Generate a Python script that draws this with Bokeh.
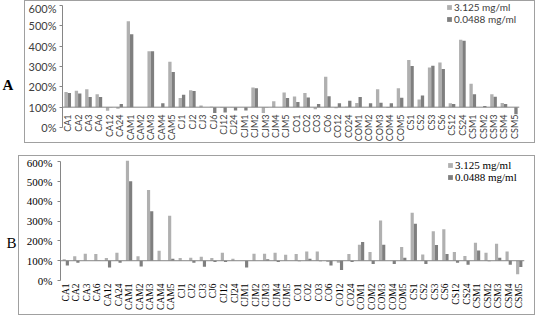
import math
from bokeh.plotting import figure
from bokeh.models import (Range1d, FactorRange, FixedTicker, PrintfTickFormatter, Span,
                          Label, Legend, LegendItem, ColumnDataSource)
from bokeh.transform import dodge
from bokeh.layouts import column, row
from bokeh.embed import file_html
from bokeh.resources import INLINE

# ---------------- data ----------------
cats = ["CA1", "CA2", "CA3", "CA6", "CA12", "CA24",
        "CAM1", "CAM2", "CAM3", "CAM4", "CAM5",
        "CJ1", "CJ2", "CJ3", "CJ6", "CJ12", "CJ24",
        "CJM1", "CJM2", "CJM3", "CJM4", "CJM5",
        "CO1", "CO2", "CO3", "CO6", "CO12", "CO24",
        "COM1", "COM2", "COM3", "COM4", "COM5",
        "CS1", "CS2", "CS3", "CS6", "CS12", "CS24",
        "CSM1", "CSM2", "CSM3", "CSM4", "CSM5"]

# panel A label text as printed
labels_a_override = {"CA12": "C12"}

a_high = [175, 181, 188, 164, 82, 92,
          523, 100, 375, 100, 324,
          145, 183, 108, 102, 97, 98,
          100, 197, 71, 129, 172,
          153, 170, 90, 250, 95, 102,
          121, 100, 188, 96, 193,
          332, 138, 295, 320, 119, 432,
          215, 100, 164, 121, 100]
a_low = [170, 167, 150, 150, 98, 116,
         459, 100, 375, 119, 273,
         161, 180, 100, 71, 74, 84,
         84, 193, 98, 100, 145,
         126, 148, 116, 154, 119, 132,
         150, 119, 122, 119, 146,
         303, 158, 304, 288, 116, 427,
         164, 106, 151, 116, 65]

b_high = [107, 122, 135, 134, 114, 140,
          605, 122, 458, 151, 328,
          114, 115, 120, 114, 140, 110,
          100, 135, 135, 140, 130,
          134, 147, 147, 93, 90, 134,
          181, 144, 303, 100, 169,
          343, 132, 249, 259, 144, 124,
          191, 140, 186, 147, 31]
b_low = [76, 90, 100, 98, 66, 90,
         502, 71, 350, 100, 110,
         100, 90, 70, 93, 93, 100,
         66, 100, 108, 93, 100,
         97, 110, 97, 76, 53, 93,
         195, 83, 181, 83, 115,
         287, 83, 179, 134, 90, 80,
         152, 97, 115, 80, 68]

series_names = ["3.125 mg/ml", "0.0488 mg/ml"]
y_ticks = [0, 100, 200, 300, 400, 500, 600]
baseline = 100

LIGHT = "#b0b0b0"
DARK = "#7f7f7f"
AXIS = "#868686"
BOX = "#a0a0a0"


def make_panel(high, low, width, height, ytop, mb_left, mb_right, mb_bottom, font,
               tick_size, leg_size, label_size, label_color, bar_w, label_standoff,
               ystandoff, legend_loc, overrides=None):
    src = ColumnDataSource(dict(cat=cats, high=high, low=low,
                                base=[baseline] * len(cats)))
    p = figure(width=width, height=height, output_backend="svg", toolbar_location=None,
               title=None, x_range=FactorRange(*cats), y_range=Range1d(0, ytop),
               min_border_left=mb_left, min_border_right=mb_right,
               min_border_top=0, min_border_bottom=mb_bottom,
               styles={"border": "1px solid " + BOX})
    p.outline_line_color = None
    p.xgrid.visible = False
    p.ygrid.visible = False

    r1 = p.vbar(x=dodge("cat", -bar_w / 2, range=p.x_range), top="high", bottom="base",
                width=bar_w, source=src, fill_color=LIGHT, line_color=None)
    r2 = p.vbar(x=dodge("cat", bar_w / 2, range=p.x_range), top="low", bottom="base",
                width=bar_w, source=src, fill_color=DARK, line_color=None)

    yax = p.yaxis[0]
    yax.ticker = FixedTicker(ticks=y_ticks)
    yax.bounds = (0, 600)
    yax.formatter = PrintfTickFormatter(format="%d%%")
    yax.axis_line_color = AXIS
    yax.major_tick_line_color = AXIS
    yax.major_tick_out = 3
    yax.major_tick_in = 0
    yax.minor_tick_line_color = None
    yax.major_label_standoff = ystandoff
    yax.major_label_text_font = font
    yax.major_label_text_font_size = tick_size
    yax.major_label_text_color = label_color

    xax = p.xaxis[0]
    xax.major_label_orientation = math.pi / 2
    xax.major_label_text_font = font
    xax.major_label_text_font_size = label_size
    xax.major_label_text_color = label_color
    xax.major_tick_line_color = None
    xax.major_tick_out = 0
    xax.major_tick_in = 0
    xax.minor_tick_line_color = None
    xax.axis_line_color = None
    xax.major_label_standoff = label_standoff
    if overrides:
        xax.major_label_overrides = overrides

    p.add_layout(Span(location=baseline, dimension="width", line_color=AXIS, line_width=1))

    legend = Legend(items=[LegendItem(label=series_names[0], renderers=[r1]),
                           LegendItem(label=series_names[1], renderers=[r2])],
                    location=legend_loc, orientation="vertical",
                    glyph_width=6, glyph_height=6, label_height=10,
                    label_standoff=2, spacing=0, padding=0, margin=0,
                    border_line_color=None, background_fill_alpha=0,
                    label_text_font=font, label_text_font_size=leg_size,
                    label_text_color=label_color)
    p.add_layout(legend)
    return p


def letter_fig(width, height, text, x, y, style):
    f = figure(frame_width=width, frame_height=height, output_backend="svg",
               toolbar_location=None, title=None,
               x_range=Range1d(0, width), y_range=Range1d(0, height),
               x_axis_location=None, y_axis_location=None,
               min_border_left=0, min_border_right=0, min_border_top=0, min_border_bottom=0)
    f.outline_line_color = None
    f.xgrid.visible = False
    f.ygrid.visible = False
    f.add_layout(Label(x=x, y=y, x_units="screen", y_units="screen", text=text,
                       text_font="Liberation Serif", text_font_style=style,
                       text_font_size="15px", text_baseline="middle", text_align="left",
                       text_color="black"))
    return f


# A: inner box 511x143, frame 0..126 px tall -> 600% at ~4 px
pa = make_panel(a_high, a_low, width=511, height=143, ytop=620, mb_left=35, mb_right=17,
                mb_bottom=17, font="Lato", tick_size="11px", leg_size="10px",
                label_size="9px", label_color="#404040", bar_w=0.32, label_standoff=-13,
                ystandoff=3, legend_loc=(384, 102), overrides=labels_a_override)
# B: inner box 517x160, frame 0..124 px tall -> 600% at ~5 px
pb = make_panel(b_high, b_low, width=517, height=160, ytop=627, mb_left=41, mb_right=12,
                mb_bottom=36, font="Liberation Serif", tick_size="11px", leg_size="11px",
                label_size="9.5px", label_color="black", bar_w=0.3, label_standoff=3,
                ystandoff=5, legend_loc=(387, 97))

la = letter_fig(24, 145, "A", 2, 61, "bold")
lb = letter_fig(18, 162, "B", 6, 75, "normal")

layout = column(row(la, pa, spacing=0), row(lb, pb, spacing=0), spacing=10)
open("out.html", "w").write(file_html(layout, INLINE))
